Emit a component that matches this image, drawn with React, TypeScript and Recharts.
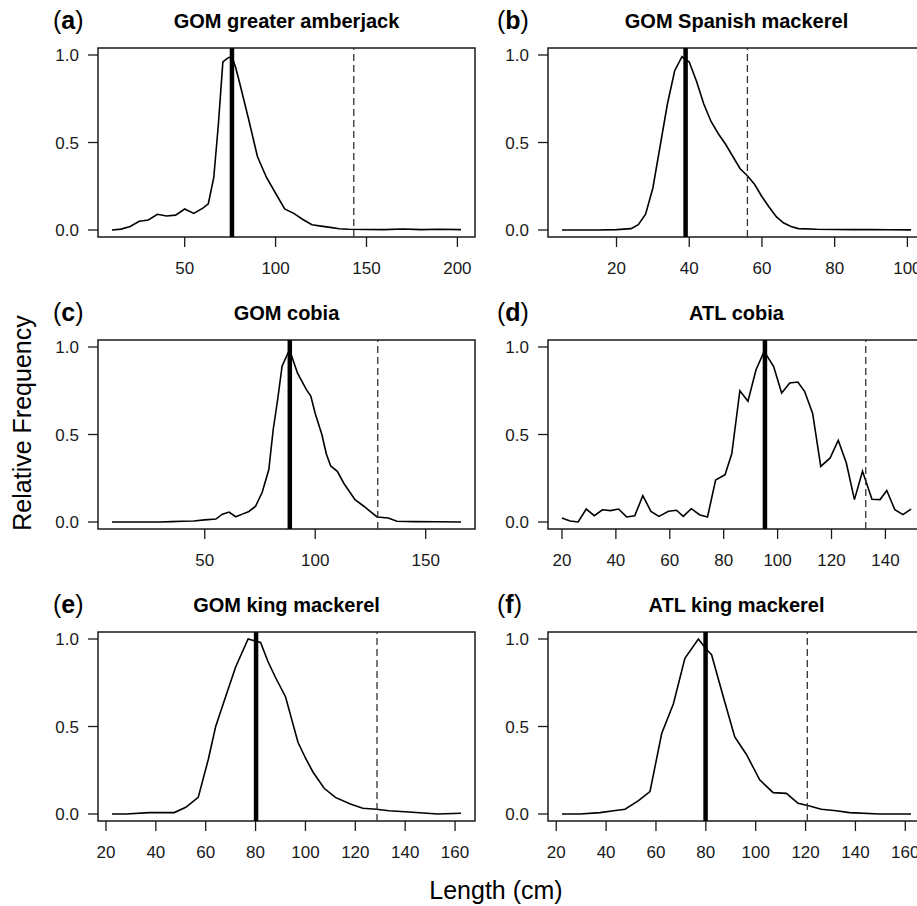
import React from "react";
import { LineChart, Line, XAxis, YAxis, ReferenceLine, ReferenceArea } from "recharts";

const FONT = '"Liberation Sans", Arial, Helvetica, sans-serif';

const titles = [
  "GOM greater amberjack",
  "GOM Spanish mackerel",
  "GOM cobia",
  "ATL cobia",
  "GOM king mackerel",
  "ATL king mackerel",
];
const letters = ["a", "b", "c", "d", "e", "f"];

// length bins (cm) and relative frequency
const amberjackLen = [10, 15, 20, 25, 30, 35, 40, 45, 50, 55, 60, 63, 66, 68.5, 71, 74, 76, 78, 80, 85, 90, 95, 100, 105, 110, 115, 120, 125, 130, 135, 140, 150, 160, 170, 180, 190, 202];
const amberjackFreq = [0, 0.005, 0.02, 0.05, 0.057, 0.09, 0.08, 0.085, 0.12, 0.095, 0.125, 0.15, 0.3, 0.6, 0.96, 0.985, 0.99, 0.93, 0.85, 0.64, 0.42, 0.3, 0.21, 0.12, 0.095, 0.06, 0.03, 0.022, 0.015, 0.007, 0.004, 0.003, 0.002, 0.006, 0.002, 0.004, 0.002];

const spanishLen = [5, 10, 15, 20, 24, 26, 28, 30, 32, 34, 36, 38, 40, 42, 44, 46, 48, 50, 52, 54, 56, 58, 60, 62, 64, 66, 68, 70, 75, 80, 85, 90, 95, 101];
const spanishFreq = [0, 0, 0, 0.002, 0.008, 0.03, 0.09, 0.24, 0.48, 0.72, 0.91, 0.99, 0.96, 0.85, 0.72, 0.62, 0.55, 0.49, 0.42, 0.35, 0.31, 0.26, 0.19, 0.13, 0.075, 0.04, 0.02, 0.008, 0.004, 0.003, 0.002, 0.002, 0.001, 0.001];

const gomCobiaLen = [8, 20, 30, 35, 40, 45, 50, 55, 58, 61, 64, 67, 70, 73, 76, 79, 81, 83, 85, 88, 89, 92, 96, 98, 100, 103, 105, 107, 110, 113, 118, 122, 128, 133, 137, 145, 155, 166];
const gomCobiaFreq = [0, 0, 0, 0.002, 0.004, 0.006, 0.012, 0.017, 0.045, 0.057, 0.03, 0.045, 0.06, 0.09, 0.17, 0.3, 0.53, 0.7, 0.89, 0.975, 0.96, 0.85, 0.756, 0.72, 0.62, 0.5, 0.39, 0.32, 0.29, 0.22, 0.128, 0.09, 0.029, 0.023, 0.004, 0.002, 0.001, 0];

const atlCobiaLen = [20, 23, 26, 29, 32, 35, 38, 41, 44, 47, 50, 53, 56, 59.5, 62.5, 65, 68, 71, 74, 77, 80.5, 83, 86, 89, 92, 95, 98.5, 101.5, 104.5, 107.5, 110, 113, 116, 119.5, 122.5, 125.5, 128.5, 131.5, 135, 138, 140.5, 143.5, 146.5, 149.5];
const atlCobiaFreq = [0.023, 0.006, 0, 0.074, 0.036, 0.07, 0.065, 0.074, 0.029, 0.036, 0.15, 0.061, 0.032, 0.061, 0.067, 0.032, 0.076, 0.042, 0.029, 0.24, 0.27, 0.39, 0.75, 0.69, 0.87, 0.975, 0.89, 0.737, 0.794, 0.8, 0.747, 0.62, 0.318, 0.366, 0.467, 0.337, 0.128, 0.29, 0.13, 0.128, 0.18, 0.07, 0.042, 0.074];

const gomKingLen = [22.4, 28, 37.4, 47.4, 52, 57, 61, 64, 67.5, 72, 77, 79.5, 82, 85, 88, 92, 97, 100, 103, 107.5, 112, 118, 123, 128.5, 133.5, 141.5, 153, 162.4];
const gomKingFreq = [0, 0, 0.008, 0.008, 0.038, 0.095, 0.31, 0.5, 0.65, 0.84, 1.0, 0.99, 0.98, 0.87, 0.78, 0.67, 0.41, 0.32, 0.24, 0.147, 0.095, 0.057, 0.033, 0.027, 0.019, 0.011, 0, 0.004];

const atlKingLen = [22.3, 29.6, 37.6, 43, 47.6, 53, 57.6, 62.3, 67, 71.6, 77, 80.3, 82.3, 87, 91.6, 96.3, 101.6, 107, 112.3, 117, 121.6, 126.3, 132.3, 137.6, 149.6, 162.3];
const atlKingFreq = [0, 0, 0.008, 0.019, 0.027, 0.076, 0.128, 0.46, 0.63, 0.89, 1.0, 0.94, 0.91, 0.67, 0.44, 0.34, 0.195, 0.122, 0.118, 0.061, 0.046, 0.027, 0.019, 0.008, 0, 0];

// thick solid line and dashed line positions (cm)
const meanLen = [76, 39, 88.5, 95.3, 80.2, 79.9];
const maxLen = [143, 56, 128.3, 132.7, 128.7, 120.7];

const xTicks = [
  [50, 100, 150, 200],
  [20, 40, 60, 80, 100],
  [50, 100, 150],
  [20, 40, 60, 80, 100, 120, 140],
  [20, 40, 60, 80, 100, 120, 140, 160],
  [20, 40, 60, 80, 100, 120, 140, 160],
];
const yTicks = [0, 0.5, 1];

const lengths = [amberjackLen, spanishLen, gomCobiaLen, atlCobiaLen, gomKingLen, atlKingLen];
const freqs = [amberjackFreq, spanishFreq, gomCobiaFreq, atlCobiaFreq, gomKingFreq, atlKingFreq];

// layout
const PLOT_W = 377;
const PLOT_H = 189;
const Y_W = 60;
const M_TOP = 10;
const M_RIGHT = 10;
const X_H = 50;
const COL_X = [98, 548];
const ROW_Y = [48, 340, 632];
const LETTER_X = [53, 497];
const INK = "#1a1a1a";

// R-style axis range: data range padded by 4% each side
function padRange(lo: number, hi: number): [number, number] {
  const d = (hi - lo) * 0.04;
  return [lo - d, hi + d];
}

const Y_DOMAIN = padRange(0, 1);

function Panel({ i }: { i: number }) {
  const col = i % 2;
  const row = Math.floor(i / 2);
  const lens = lengths[i];
  const data = lens.map((x, k) => ({ x, y: freqs[i][k] }));
  const xDomain = padRange(Math.min(...lens), Math.max(...lens));
  const tickStyle = { fontSize: 17, fill: INK, fontFamily: FONT };

  return (
    <div
      style={{
        position: "absolute",
        left: COL_X[col] - Y_W,
        top: ROW_Y[row] - M_TOP,
      }}
    >
      <LineChart
        width={Y_W + PLOT_W + M_RIGHT}
        height={M_TOP + PLOT_H + X_H}
        data={data}
        margin={{ top: M_TOP, right: M_RIGHT, bottom: 0, left: 0 }}
      >
        <XAxis
          dataKey="x"
          type="number"
          domain={xDomain}
          ticks={xTicks[i]}
          interval={0}
          height={X_H}
          axisLine={false}
          tickLine={{ stroke: INK, strokeWidth: 1.3 }}
          tickSize={10}
          tickMargin={15}
          tick={tickStyle}
          allowDataOverflow
        />
        <YAxis
          type="number"
          domain={Y_DOMAIN}
          ticks={yTicks}
          interval={0}
          width={Y_W}
          axisLine={false}
          tickLine={{ stroke: INK, strokeWidth: 1.3 }}
          tickSize={10}
          tickMargin={9}
          tick={tickStyle}
          tickFormatter={(v: number) => v.toFixed(1)}
          allowDataOverflow
        />
        <ReferenceArea
          x1={xDomain[0]}
          x2={xDomain[1]}
          y1={Y_DOMAIN[0]}
          y2={Y_DOMAIN[1]}
          fill="none"
          stroke={INK}
          strokeWidth={1.5}
          ifOverflow="visible"
        />
        <Line
          dataKey="y"
          type="linear"
          stroke="#000"
          strokeWidth={1.6}
          dot={false}
          activeDot={false}
          isAnimationActive={false}
        />
        <ReferenceLine x={meanLen[i]} stroke="#000" strokeWidth={4.5} ifOverflow="visible" />
        <ReferenceLine
          x={maxLen[i]}
          stroke="#333"
          strokeWidth={1.3}
          strokeDasharray="7 4"
          ifOverflow="visible"
        />
      </LineChart>
    </div>
  );
}

export default function App() {
  return (
    <div
      style={{
        position: "absolute",
        left: 0,
        top: 0,
        width: 917,
        height: 906,
        overflow: "hidden",
        background: "#fff",
        fontFamily: FONT,
      }}
    >
      {titles.map((_, i) => (
        <Panel key={i} i={i} />
      ))}
      <svg
        width={917}
        height={906}
        style={{ position: "absolute", left: 0, top: 0, pointerEvents: "none" }}
        fontFamily={FONT}
      >
        {titles.map((t, i) => {
          const col = i % 2;
          const row = Math.floor(i / 2);
          return (
            <g key={t}>
              <text
                x={COL_X[col] + PLOT_W / 2}
                y={ROW_Y[row] - 20}
                textAnchor="middle"
                fontSize={20}
                fontWeight="bold"
                fill="#000"
              >
                {t}
              </text>
              <text x={LETTER_X[col]} y={ROW_Y[row] - 19} fontSize={25} fill="#000">
                (<tspan fontWeight="bold">{letters[i]}</tspan>)
              </text>
            </g>
          );
        })}
        <text
          x={31}
          y={423}
          transform="rotate(-90 31 423)"
          textAnchor="middle"
          fontSize={25}
          fill="#000"
        >
          Relative Frequency
        </text>
        <text x={496} y={899} textAnchor="middle" fontSize={25} fill="#000">
          Length (cm)
        </text>
      </svg>
    </div>
  );
}
